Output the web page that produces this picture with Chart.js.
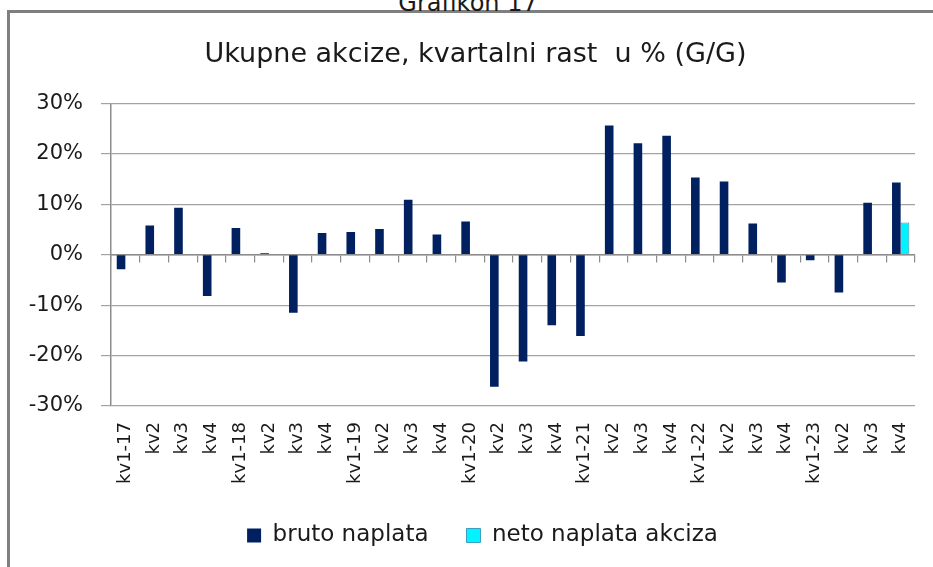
<!DOCTYPE html>
<html>
<head>
<meta charset="utf-8">
<script src="https://cdn.jsdelivr.net/npm/chart.js@4/dist/chart.umd.min.js"></script>
<style>
  html, body { margin: 0; padding: 0; background: #ffffff; overflow: hidden; }
  #wrap { position: relative; width: 933px; height: 567px; }
  #frame { position: absolute; left: 7px; top: 10px; width: 960px; height: 620px;
           border: 3px solid #7f7f7f; box-sizing: border-box; }
  #sup { position: absolute; left: 0; width: 936px; top: -9px; text-align: center;
         font-family: 'DejaVu Sans', sans-serif; font-size: 24px; line-height: 24px; color: #1a1a1a; }
  canvas { position: absolute; left: 0; top: 0; }
</style>
</head>
<body>
<div id="wrap">
  <div id="frame"></div>
  <div id="sup">Grafikon 17</div>
  <canvas id="c" width="933" height="567"></canvas>
</div>
<script>
const chartTitle = 'Ukupne akcize, kvartalni rast  u % (G/G)';
const categories = ['kv1-17','kv2','kv3','kv4','kv1-18','kv2','kv3','kv4','kv1-19','kv2','kv3','kv4',
  'kv1-20','kv2','kv3','kv4','kv1-21','kv2','kv3','kv4','kv1-22','kv2','kv3','kv4','kv1-23','kv2','kv3','kv4'];
const brutoNaplata = [-2.9, 5.8, 9.3, -8.2, 5.3, 0.3, -11.5, 4.3, 4.5, 5.1, 10.9, 4.0,
  6.6, -26.2, -21.2, -14.0, -16.1, 25.6, 22.1, 23.6, 15.3, 14.5, 6.2, -5.5, -1.1, -7.5, 10.3, 14.3];
const netoNaplata = [null, null, null, null, null, null, null, null, null, null, null, null,
  null, null, null, null, null, null, null, null, null, null, null, null, null, null, null, 6.4];
const seriesNames = ['bruto naplata', 'neto naplata akciza'];
const yTicks = [-30, -20, -10, 0, 10, 20, 30];

const FONT = "'DejaVu Sans', sans-serif";
const TXT = '#1a1a1a';

// shift title / legend horizontal span so they centre like the original
const shiftBoxes = {
  id: 'shiftBoxes',
  afterLayout(chart) {
    if (chart.titleBlock) chart.titleBlock.left += 36;
    if (chart.legend) chart.legend.left += 50;
  }
};

new Chart(document.getElementById('c'), {
  type: 'bar',
  data: {
    labels: categories,
    datasets: [
      { label: seriesNames[0], data: brutoNaplata, backgroundColor: '#002060', borderWidth: 0,
        categoryPercentage: 0.6, barPercentage: 1.0 },
      { label: seriesNames[1], data: netoNaplata, backgroundColor: '#00f4ff', borderColor: '#3a9fc0', borderWidth: 1,
        categoryPercentage: 0.6, barPercentage: 1.0 }
    ]
  },
  plugins: [shiftBoxes],
  options: {
    responsive: false,
    animation: false,
    events: [],
    layout: { padding: { left: 0, right: 18, top: 0, bottom: 10 } },
    plugins: {
      title: { display: true, text: chartTitle, color: TXT,
               font: { family: FONT, size: 27, weight: 'normal' },
               padding: { top: 39, bottom: 32 } },
      legend: { display: true, position: 'bottom',
                labels: { color: TXT, font: { family: FONT, size: 23 }, boxWidth: 14, boxHeight: 14, padding: 38 } },
      tooltip: { enabled: false }
    },
    scales: {
      x: {
        type: 'category',
        position: 'bottom',
        offset: true,
        grid: { display: false, drawTicks: false, tickLength: 0 },
        border: { display: false },
        ticks: { color: TXT, font: { family: FONT, size: 18 }, minRotation: 90, maxRotation: 90,
                 padding: 16, autoSkip: false },
        afterFit: (s) => { s.height = 80; s.paddingLeft = 0; s.paddingRight = 0; }
      },
      x2: {
        type: 'category',
        position: { y: 0 },
        offset: true,
        grid: { offset: true, drawOnChartArea: false, drawTicks: true, tickLength: 7, color: '#8c8c8c', lineWidth: 1.2 },
        border: { display: true, color: '#8c8c8c', width: 1.5 },
        ticks: { display: false },
        afterFit: (s) => { s.paddingLeft = 0; s.paddingRight = 0; }
      },
      y: {
        min: -30, max: 30,
        afterBuildTicks: (s) => { s.ticks = yTicks.map(v => ({ value: v })); },
        grid: { color: '#a3a3a3', lineWidth: 1.2, tickLength: 10, drawTicks: true },
        border: { display: true, color: '#8c8c8c', width: 1.5 },
        ticks: { color: TXT, font: { family: FONT, size: 21 }, padding: 18,
                 callback: (v) => v + '%' },
        afterFit: (s) => { s.width = 111; }
      }
    }
  }
});
</script>
</body>
</html>
